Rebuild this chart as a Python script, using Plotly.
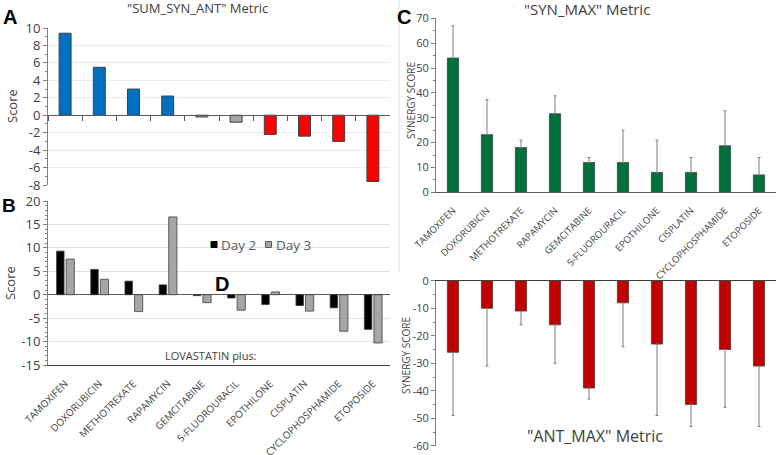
import plotly.graph_objects as go

W, H = 778, 455

drugs = ["TAMOXIFEN", "DOXORUBICIN", "METHOTREXATE", "RAPAMYCIN", "GEMCITABINE",
         "5-FLUOROURACIL", "EPOTHILONE", "CISPLATIN", "CYCLOPHOSPHAMIDE", "ETOPOSIDE"]
sum_syn_ant = [9.4, 5.5, 3.0, 2.2, -0.2, -0.8, -2.2, -2.4, -3.0, -7.6]
sum_colors = ["#0070C0"] * 4 + ["#A6A6A6"] * 2 + ["#FF0000"] * 4
day2 = [9.3, 5.4, 2.9, 2.1, -0.2, -0.7, -2.1, -2.3, -2.8, -7.4]
day3 = [7.6, 3.3, -3.6, 16.6, -1.7, -3.3, 0.6, -3.5, -7.8, -10.3]
syn_max = [54, 23.2, 18, 31.6, 12, 12, 8, 8, 18.7, 7]
syn_err = [13, 14.1, 3, 7.2, 2, 13, 13, 6, 14.1, 7]
ant_max = [-26, -10, -11, -16, -39, -8, -23, -45, -25, -31]
ant_err = [23, 21, 5, 14, 4, 16, 26, 8, 21, 22]
zeros = [0] * len(drugs)

ticks_a = [10, 8, 6, 4, 2, 0, -2, -4, -6, -8]
ticks_b = [20, 15, 10, 5, 0, -5, -10, -15]
ticks_c = [70, 60, 50, 40, 30, 20, 10, 0]
ticks_d = [0, -10, -20, -30, -40, -50, -60]

FONT = "Open Sans"
TXT = "#404040"


def px(x, y):
    return x / W, 1 - y / H


def lab(vals):
    return [str(v) for v in vals]


fig = go.Figure()

# Panel A
fig.add_trace(go.Bar(x=drugs, y=sum_syn_ant, width=0.35,
                     marker=dict(color=sum_colors, line=dict(color="#404040", width=1)),
                     xaxis="x", yaxis="y"))
# Panel B
fig.add_trace(go.Bar(x=drugs, y=day2, width=0.22, offset=-0.25, name="Day 2",
                     marker=dict(color="#000000", line=dict(color="#404040", width=0.8)),
                     xaxis="x2", yaxis="y2"))
fig.add_trace(go.Bar(x=drugs, y=day3, width=0.24, offset=0.03, name="Day 3",
                     marker=dict(color="#A6A6A6", line=dict(color="#404040", width=0.8)),
                     xaxis="x2", yaxis="y2"))
# Panel C
fig.add_trace(go.Bar(x=drugs, y=syn_max, width=0.33,
                     marker=dict(color="#00703C", line=dict(color="#404040", width=0.8)),
                     error_y=dict(type="data", array=syn_err, arrayminus=zeros, symmetric=False,
                                  color="#7F7F7F", thickness=1, width=1.5),
                     xaxis="x3", yaxis="y3"))
# Panel D
fig.add_trace(go.Bar(x=drugs, y=ant_max, width=0.33,
                     marker=dict(color="#C00000", line=dict(color="#404040", width=0.8)),
                     error_y=dict(type="data", array=zeros, arrayminus=ant_err, symmetric=False,
                                  color="#7F7F7F", thickness=1, width=1.5),
                     xaxis="x4", yaxis="y4"))

left_dom = [48 / W, 390 / W]
right_dom = [436 / W, 776 / W]


def ydom(top, bottom):
    return [1 - bottom / H, 1 - top / H]


def yax(dom, anchor, rng, tv, size, grid=None, minor_dt=None, zero=False):
    d = dict(domain=ydom(*dom), anchor=anchor, range=rng, tickmode="array",
             tickvals=tv, ticktext=lab(tv), showline=True, linecolor="#7F7F7F",
             linewidth=1, ticks="outside", tickcolor="#7F7F7F", ticklen=4,
             automargin=False, fixedrange=True, tickfont=dict(size=size, color=TXT),
             showgrid=grid is not None, gridcolor=grid or "#FFFFFF",
             zeroline=zero, zerolinecolor="#595959", zerolinewidth=1)
    if minor_dt:
        d["minor"] = dict(ticks="outside", ticklen=2, dtick=minor_dt, tickcolor="#7F7F7F",
                          showgrid=False)
    return d


fig.update_layout(
    template="none",
    width=W, height=H, margin=dict(l=0, r=0, t=0, b=0, autoexpand=False),
    paper_bgcolor="white", plot_bgcolor="white",
    font=dict(family=FONT, color=TXT),
    barmode="overlay", showlegend=False,
    xaxis=dict(domain=left_dom, anchor="free", position=1 - 115 / H, type="category",
               showline=True, linecolor="#595959", linewidth=1, ticks="outside",
               tickson="boundaries", ticklen=5, tickcolor="#595959", showticklabels=False,
               showgrid=False, zeroline=False, automargin=False, fixedrange=True),
    yaxis=yax((28, 185), "x", [-8, 10], ticks_a, 13, grid="#EBEBEB", minor_dt=1),
    xaxis2=dict(domain=left_dom, anchor="y2", type="category", showline=True,
                linecolor="#404040", linewidth=1, ticks="outside", ticklen=8,
                tickcolor="rgba(0,0,0,0)", tickangle=-45,
                tickfont=dict(size=10, color=TXT), showgrid=False, zeroline=False,
                automargin=False, fixedrange=True),
    yaxis2=yax((201, 365), "x2", [-15, 20], ticks_b, 13, grid="#E3E3E3", minor_dt=1,
               zero=True),
    xaxis3=dict(domain=right_dom, anchor="y3", type="category", showline=True,
                linecolor="#595959", linewidth=1, ticks="outside", ticklen=8,
                tickcolor="rgba(0,0,0,0)", tickangle=-45,
                tickfont=dict(size=9.5, color=TXT), showgrid=False, zeroline=False,
                automargin=False, fixedrange=True),
    yaxis3=yax((18.3, 192.3), "x3", [0, 70], ticks_c, 11, minor_dt=5),
    xaxis4=dict(domain=right_dom, anchor="y4", side="top", type="category", showline=True,
                linecolor="#404040", linewidth=1.2, showticklabels=False, ticks="",
                showgrid=False, zeroline=False, automargin=False, fixedrange=True),
    yaxis4=yax((280.8, 445.8), "x4", [-60, 0], ticks_d, 11, minor_dt=5),
)


def ann(text, x, y, size, bold=False, angle=0, family=FONT, color=TXT, xanchor="center"):
    ax, ay = px(x, y)
    fig.add_annotation(text=("<b>%s</b>" % text) if bold else text, x=ax, y=ay,
                       xref="paper", yref="paper", showarrow=False, textangle=angle,
                       xanchor=xanchor, yanchor="middle",
                       font=dict(size=size, family=family, color=color))


def rect(xa, ya, xb, yb, fill, line="#404040", width=1):
    x0, y0 = px(xa, ya)
    x1, y1 = px(xb, yb)
    fig.add_shape(type="rect", xref="paper", yref="paper", x0=x0, y0=y0, x1=x1, y1=y1,
                  fillcolor=fill, line=dict(color=line, width=width))


LET = "Liberation Sans"
ann("A", 1, 17, 20, bold=True, family=LET, color="#000000", xanchor="left")
ann("B", 0, 206, 19, bold=True, family=LET, color="#000000", xanchor="left")
ann("C", 395, 17, 20, bold=True, family=LET, color="#000000", xanchor="left")
ann("D", 222, 284, 20, bold=True, family=LET, color="#000000")

ann('"SUM_SYN_ANT" Metric', 197, 8, 13)
ann('"SYN_MAX" Metric', 587, 9, 15)
ann('"ANT_MAX" Metric', 595, 436, 16)
ann("Score", 12, 106, 13, angle=-90)
ann("Score", 10, 283, 13, angle=-90)
ann("SYNERGY SCORE", 411, 100, 10, angle=-90)
ann("SYNERGY SCORE", 406, 356, 10, angle=-90)
ann("LOVASTATIN plus:", 211, 355, 11)

# legend (Day 2 / Day 3)
rect(211, 241.5, 217, 247.5, "#000000", "#000000")
ann("Day 2", 219, 244.5, 13.5, color="#595959", xanchor="left")
rect(265.5, 241.5, 271.5, 247.5, "#A6A6A6", "#595959")
ann("Day 3", 274, 244.5, 13.5, color="#595959", xanchor="left")

x0, y0 = px(399, 0)
x1, y1 = px(399, 273)
fig.add_shape(type="line", xref="paper", yref="paper", x0=x0, y0=y0, x1=x1, y1=y1,
              line=dict(color="#E0E0E0", width=1))

fig.write_html("out.html", config={"displayModeBar": False},
               post_script="document.body.style.margin='0';document.body.style.overflow='hidden';")
